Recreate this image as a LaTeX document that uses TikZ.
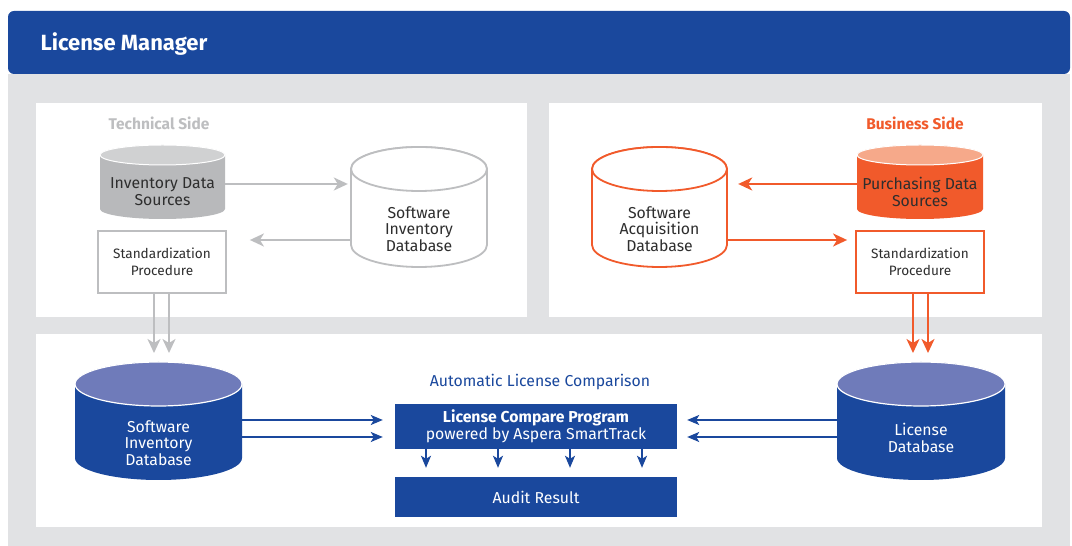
\documentclass[tikz,border=0pt]{standalone}
\usepackage{fontspec}
\setmainfont{Fira Sans}
\usetikzlibrary{arrows.meta,positioning}

\definecolor{lmblue}{HTML}{1A489D}
\definecolor{lmlightblue}{HTML}{6F7BBA}
\definecolor{lmgrey}{HTML}{E1E2E4}
\definecolor{techgrey}{HTML}{BDBEC0}
\definecolor{techfill}{HTML}{B8B9BB}
\definecolor{techtop}{HTML}{D0D1D2}
\definecolor{bizorange}{HTML}{F15A2B}
\definecolor{biztop}{HTML}{F6A98A}
\definecolor{darktext}{HTML}{2E2E2E}

\tikzset{
  cylbody/.style={}, cyltop/.style={},
  dbtext/.style={align=center, inner sep=0pt, text=darktext,
    font=\fontsize{15.8}{16.8}\selectfont},
  greysolid/.style={cylbody/.style={fill=techfill},
    cyltop/.style={fill=techtop, draw=white, line width=1pt}},
  greyline/.style={cylbody/.style={fill=white, draw=techgrey, line width=1.8pt},
    cyltop/.style={fill=white, draw=techgrey, line width=1.8pt}},
  orangesolid/.style={cylbody/.style={fill=bizorange},
    cyltop/.style={fill=biztop, draw=white, line width=1pt}},
  orangeline/.style={cylbody/.style={fill=white, draw=bizorange, line width=1.8pt},
    cyltop/.style={fill=white, draw=bizorange, line width=1.8pt}},
  bluesolid/.style={cylbody/.style={fill=lmblue},
    cyltop/.style={fill=lmlightblue, draw=white, line width=1.2pt}, text=white},
  stdbox/.style={draw, fill=white, line width=1.8pt, minimum width=128,
    minimum height=62, align=center, text=darktext,
    font=\fontsize{13.6}{16.7}\selectfont},
  bluebox/.style={fill=lmblue, text=white, minimum width=282, align=center,
    inner sep=0pt, font=\fontsize{15.8}{17.5}\selectfont},
  greyarr/.style={draw=techgrey, line width=2pt,
    -{Stealth[length=14pt, width=13pt, inset=4pt]}},
  orangearr/.style={draw=bizorange, line width=2pt,
    -{Stealth[length=14pt, width=13pt, inset=4pt]}},
  bluearr/.style={draw=lmblue, line width=1.8pt,
    -{Stealth[length=12pt, width=10pt, inset=3pt]}},
}

% cylinder: name, x, top y, width, height, end radius, look, text
\newcommand{\dbcyl}[8]{%
  \path[#7, cylbody] ({#2-#4/2},{#3-#6}) -- ({#2-#4/2},{#3-#5+#6})
    arc[start angle=180, end angle=360, x radius=#4/2, y radius=#6]
    -- ({#2+#4/2},{#3-#6})
    arc[start angle=0, end angle=180, x radius=#4/2, y radius=#6] -- cycle;
  \path[#7, cyltop] (#2,{#3-#6}) ellipse[x radius=#4/2, y radius=#6];
  \node[dbtext, #7, minimum width=#4, minimum height={#5-2*#6}] (#1)
    at (#2,{#3-2*#6-(#5-2*#6)/2}) {#8};
  \coordinate (#1 in) at (#2,{#3+9});
}

\begin{document}
\begin{tikzpicture}[x=1pt, y=1pt]
  \useasboundingbox (0,0) rectangle (1072,546);

  % Frame and panels
  \fill[lmgrey] (8,0) rectangle (1070,471.5);
  \fill[lmblue, rounded corners=6pt] (8,472) rectangle (1070,535);
  \fill[white] (36,229) rectangle (527,443);
  \fill[white] (549,229) rectangle (1042,443);
  \fill[white] (36,19) rectangle (1042,212);

  \node[anchor=west, text=white, font=\bfseries\fontsize{22}{24}\selectfont]
    (lmtitle) at (37,502) {License Manager};

  % Technical side
  \node[text=techgrey, font=\bfseries\fontsize{15.5}{17}\selectfont]
    (techtitle) at (159,423) {Technical Side};
  \dbcyl{ids}{162.5}{401}{125}{74}{10}{greysolid}{Inventory Data\\Sources}
  \dbcyl{techdb}{419}{399}{136}{120}{22}{greyline}{Software\\Inventory\\Database}
  \node[stdbox, draw=techgrey] (techstd) at (162,284) {Standardization\\Procedure};

  % Business side
  \node[text=bizorange, font=\bfseries\fontsize{15.5}{17}\selectfont]
    (biztitle) at (915,423) {Business Side};
  \dbcyl{pds}{920}{401}{126}{74}{10}{orangesolid}{Purchasing Data\\Sources}
  \dbcyl{acqdb}{659.5}{399}{135}{120}{22}{orangeline}{Software\\Acquisition\\Database}
  \node[stdbox, draw=bizorange] (bizstd) at (920,284) {Standardization\\Procedure};

  % Comparison
  \dbcyl{invdb}{158.5}{184}{167}{118}{22}{bluesolid}{Software\\Inventory\\Database}
  \dbcyl{licdb}{921}{184}{168}{118}{22}{bluesolid}{License\\Database\\[-7pt]}
  \node[text=lmblue, font=\fontsize{15.8}{17}\selectfont]
    (comptitle) at (540,164) {Automatic License Comparison};
  \node[bluebox, minimum height=45] (lcp) at (536,119.5)
    {\textbf{License Compare Program}\\powered by Aspera SmartTrack};
  \node[bluebox, minimum height=40] (audit) at (536,49) {Audit Result};

  % Connectors
  \draw[greyarr] ([yshift=8]ids.east) -- ([xshift=-3,yshift=45]techdb.west);
  \draw[greyarr] ([yshift=-11]techdb.west) -- ([xshift=23,yshift=22]techstd.east);
  \foreach \dx in {-8,7}
    \draw[greyarr] ([xshift=\dx]techstd.south) -- ([xshift=\dx]techstd.south |- invdb in);

  \draw[orangearr] ([yshift=8]pds.west) -- ([xshift=11,yshift=45]acqdb.east);
  \draw[orangearr] ([yshift=-11]acqdb.east) -- ([xshift=-8,yshift=22]bizstd.west);
  \foreach \dx in {-7,8}
    \draw[orangearr] ([xshift=\dx]bizstd.south) -- ([xshift=\dx]bizstd.south |- licdb in);

  \draw[bluearr] ([yshift=23]invdb.east) -- ([xshift=-12,yshift=6.5]lcp.west);
  \draw[bluearr] ([yshift=6]invdb.east) -- ([xshift=-12,yshift=-10.5]lcp.west);
  \draw[bluearr] ([yshift=23]licdb.west) -- ([xshift=10,yshift=6.5]lcp.east);
  \draw[bluearr] ([yshift=6]licdb.west) -- ([xshift=10,yshift=-10.5]lcp.east);
  \foreach \dx in {-110,-38,34,106}
    \draw[bluearr] ([xshift=\dx]lcp.south) -- ([xshift=\dx,yshift=9]audit.north);
\end{tikzpicture}
\end{document}
